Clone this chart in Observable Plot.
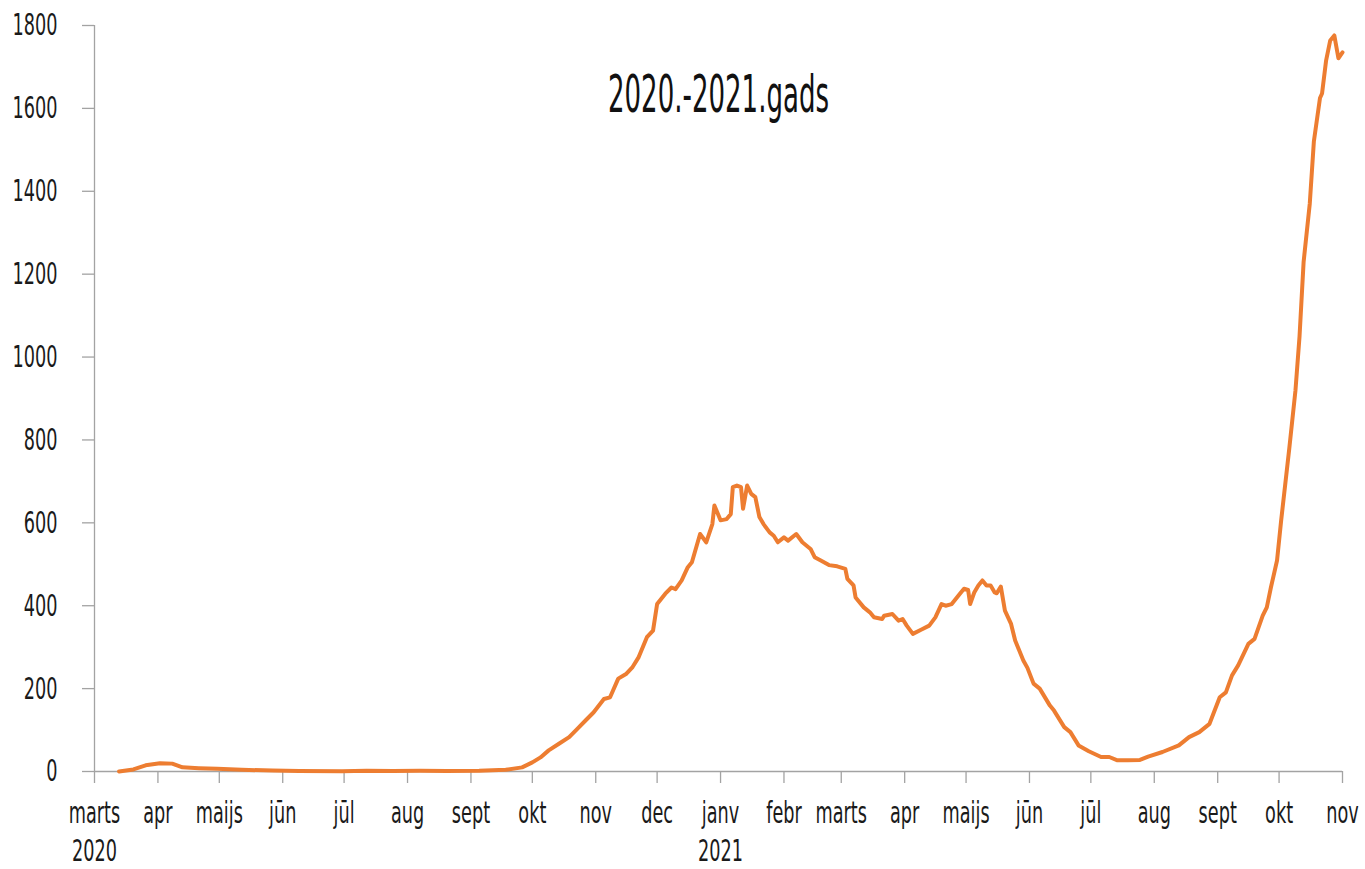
<!DOCTYPE html>
<html>
<head>
<meta charset="utf-8">
<script src="https://cdn.jsdelivr.net/npm/d3@7"></script>
<script src="https://cdn.jsdelivr.net/npm/@observablehq/plot@0.6"></script>
<style>
  html, body { margin: 0; padding: 0; background: #fff; overflow: hidden; }
</style>
</head>
<body>
<div id="chart"></div>
<script>
// ---- data ----
const dates = [
  "2020-03-13","2020-03-20","2020-03-26","2020-04-02","2020-04-08","2020-04-13","2020-04-21","2020-04-30",
  "2020-05-12","2020-05-27","2020-06-09","2020-06-30","2020-07-12","2020-07-25","2020-08-07","2020-08-20",
  "2020-09-05","2020-09-18","2020-09-26","2020-10-01","2020-10-05","2020-10-09","2020-10-14","2020-10-19",
  "2020-10-23","2020-10-27","2020-10-31","2020-11-05","2020-11-08","2020-11-12","2020-11-16","2020-11-19",
  "2020-11-22","2020-11-26","2020-11-29","2020-12-01","2020-12-05","2020-12-08","2020-12-10","2020-12-13",
  "2020-12-16","2020-12-18","2020-12-22","2020-12-25","2020-12-28","2020-12-29","2021-01-01","2021-01-04",
  "2021-01-06","2021-01-07","2021-01-09","2021-01-11","2021-01-12","2021-01-14","2021-01-16","2021-01-18",
  "2021-01-20","2021-01-22","2021-01-25","2021-01-27","2021-01-29","2021-02-01","2021-02-03","2021-02-07",
  "2021-02-10","2021-02-14","2021-02-16","2021-02-19","2021-02-23","2021-02-27","2021-03-03","2021-03-04",
  "2021-03-07","2021-03-08","2021-03-12","2021-03-15","2021-03-17","2021-03-21","2021-03-22","2021-03-26",
  "2021-03-29","2021-03-31","2021-04-02","2021-04-05","2021-04-09","2021-04-13","2021-04-16","2021-04-19",
  "2021-04-21","2021-04-24","2021-04-28","2021-04-30","2021-05-02","2021-05-03","2021-05-05","2021-05-07",
  "2021-05-09","2021-05-11","2021-05-13","2021-05-15","2021-05-16","2021-05-18","2021-05-20","2021-05-23",
  "2021-05-25","2021-05-29","2021-05-31","2021-06-03","2021-06-06","2021-06-11","2021-06-13","2021-06-18",
  "2021-06-21","2021-06-25","2021-06-30","2021-07-06","2021-07-10","2021-07-14","2021-07-19","2021-07-25",
  "2021-07-29","2021-08-05","2021-08-13","2021-08-18","2021-08-23","2021-08-28","2021-09-02","2021-09-05",
  "2021-09-08","2021-09-11","2021-09-16","2021-09-19","2021-09-23","2021-09-25","2021-09-27","2021-09-30",
  "2021-10-02","2021-10-06","2021-10-09","2021-10-11","2021-10-13","2021-10-16","2021-10-18","2021-10-21",
  "2021-10-22","2021-10-24","2021-10-26","2021-10-28","2021-10-30","2021-11-01"
];
const values = [
  0,5,15,20,19,10,8,6.5,
  4,2.5,1,0.5,2,1.5,2,1.5,
  2,4,10,22,34,51,67,83,
  103,123,143,175,179,224,236,252,
  276,324,340,404,429,444,440,461,
  493,505,573,553,597,642,606,609,
  621,686,690,686,634,690,670,662,
  614,597,577,569,553,565,557,573,
  553,537,517,509,498,495,489,465,
  449,420,396,384,372,368,376,380,
  364,368,352,332,342,352,372,404,
  400,404,429,441,438,404,432,449,
  461,449,449,432,430,446,388,356,
  316,268,250,212,200,159,147,107,
  95,63,49,35,35,27,27,28,
  36,47,63,83,95,115,179,191,
  232,256,308,320,376,396,444,509,
  605,780,919,1050,1230,1370,1520,1625,
  1636,1716,1764,1776,1721,1735
];

const monthTicks = [
  "2020-03-01","2020-04-01","2020-05-01","2020-06-01","2020-07-01","2020-08-01","2020-09-01",
  "2020-10-01","2020-11-01","2020-12-01","2021-01-01","2021-02-01","2021-03-01","2021-04-01",
  "2021-05-01","2021-06-01","2021-07-01","2021-08-01","2021-09-01","2021-10-01","2021-11-01"
];
const monthLabels = [
  "marts","apr","maijs","jūn","jūl","aug","sept",
  "okt","nov","dec","janv","febr","marts","apr",
  "maijs","jūn","jūl","aug","sept","okt","nov"
];
const yearLabels = [
  "2020","","","","","","",
  "","","","2021","","","",
  "","","","","","",""
];
const yTicks = [0,200,400,600,800,1000,1200,1400,1600,1800];
const title = "2020.-2021.gads";

// ---- build ----
const FONT = "'Liberation Sans Narrow', 'DejaVu Sans Condensed', 'Arial Narrow', sans-serif";
const data = dates.map((d, i) => ({date: new Date(d), value: values[i]}));
const tickDates = monthTicks.map(d => new Date(d));
const labelMap = new Map(tickDates.map((d, i) => [+d, monthLabels[i] + (yearLabels[i] ? "\n" + yearLabels[i] : "")]));

const axisGray = "#a3a3a3";
const textColor = "#1a1a1a";

const chart = Plot.plot({
  width: 1365,
  height: 869,
  marginLeft: 94,
  marginRight: 23,
  marginTop: 25,
  marginBottom: 98,
  style: {fontFamily: FONT, fontSize: "30px", background: "#fff", color: textColor},
  x: {type: "utc", domain: [new Date("2020-03-01"), new Date("2021-11-01")]},
  y: {domain: [0, 1800]},
  marks: [
    Plot.axisY({ticks: yTicks, tickSize: 12, tickPadding: 25, fontSize: 31, stroke: axisGray, strokeWidth: 1.3, fill: textColor, tickFormat: d => String(d), label: null}),
    Plot.axisX({ticks: tickDates, tickSize: 12, tickPadding: 13, fontSize: 31, stroke: axisGray, strokeWidth: 1.3, fill: textColor, lineHeight: 1.22, tickFormat: d => labelMap.get(+d), label: null}),
    Plot.ruleX([new Date("2020-03-01")], {stroke: axisGray, strokeWidth: 1.3}),
    Plot.ruleY([0], {stroke: axisGray, strokeWidth: 1.3}),
    Plot.lineY(data, {x: "date", y: "value", stroke: "#ED7D31", strokeWidth: 4, strokeLinejoin: "round"}),
    Plot.text([title], {frameAnchor: "top", dy: 50, fontSize: 52, fill: "#111"})
  ]
});

document.getElementById("chart").appendChild(chart);

function squeezeTo(nodes, targetWidth, refText) {
  // measure the reference text's rendered width, then scale all nodes horizontally
  let w = null;
  nodes.each(function() { if (this.textContent === refText) w = this.getBBox().width; });
  if (!w) return;
  const k = targetWidth / w;
  nodes.each(function() {
    const t = this.getAttribute("transform") || "";
    const x = +this.getAttribute("x") || 0, y = +this.getAttribute("y") || 0;
    this.setAttribute("transform", `${t} translate(${x},${y}) scale(${k},1) translate(${-x},${-y})`);
  });
}
const svg = d3.select(chart);
squeezeTo(svg.selectAll("g[aria-label='y-axis tick label'] text, g[aria-label='x-axis tick label'] text"), 45, "1800");
squeezeTo(svg.selectAll("text").filter(function() { return this.textContent === title; }), 221, title);
</script>
</body>
</html>
